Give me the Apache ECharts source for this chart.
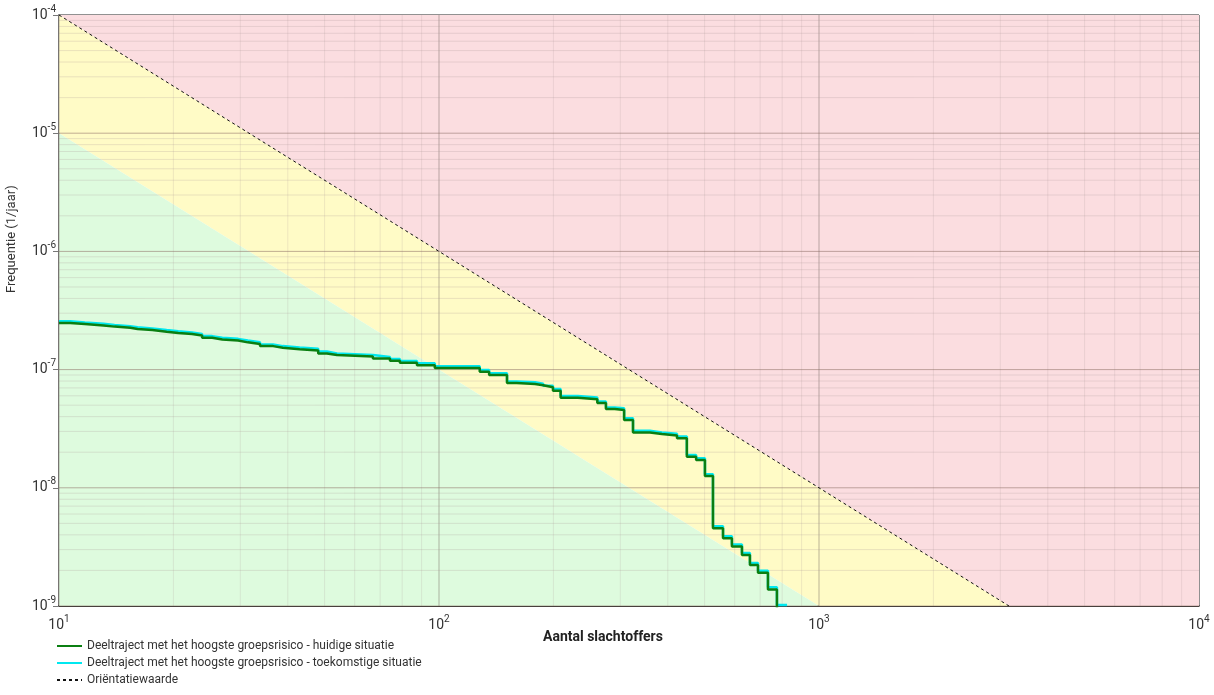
<!DOCTYPE html>
<html>
<head>
<meta charset="utf-8">
<script src="https://cdn.jsdelivr.net/npm/echarts@6/dist/echarts.min.js"></script>
<style>
html,body{margin:0;padding:0;background:#fff;}
#chart{width:1214px;height:695px;}
</style>
</head>
<body>
<div id="chart"></div>
<script>
// ---- data ----
const xTicks = [10, 100, 1000, 10000];
const yTicks = [1e-9, 1e-8, 1e-7, 1e-6, 1e-5, 1e-4];

const nGreen = [10, 10.7, 11.7, 13.1, 14.0, 15.4, 16.1, 17.6, 19.2, 20.6, 22.4, 23.8, 25.3, 26.9, 29.6, 31.4, 33.8, 36.6, 38.8, 43.0, 48.1, 50.7, 53.9, 67.0, 74.3, 78.9, 87.5, 97.5, 128, 135.5, 151, 160, 179, 188, 199.5, 209, 232, 261, 275, 290, 307, 324, 359, 386, 423, 449, 475, 501, 526, 559, 590, 627, 658, 691, 734, 775, 830];
const fGreen = [2.48e-7, 2.43e-7, 2.36e-7, 2.31e-7, 2.26e-7, 2.21e-7, 2.16e-7, 2.09e-7, 2.04e-7, 2.00e-7, 1.94e-7, 1.86e-7, 1.80e-7, 1.76e-7, 1.70e-7, 1.65e-7, 1.58e-7, 1.53e-7, 1.49e-7, 1.45e-7, 1.37e-7, 1.33e-7, 1.29e-7, 1.24e-7, 1.19e-7, 1.14e-7, 1.09e-7, 1.03e-7, 9.6e-8, 9.0e-8, 7.7e-8, 7.55e-8, 7.36e-8, 7.08e-8, 6.63e-8, 5.78e-8, 5.61e-8, 5.21e-8, 4.64e-8, 4.55e-8, 3.75e-8, 2.94e-8, 2.85e-8, 2.77e-8, 2.62e-8, 1.83e-8, 1.72e-8, 1.26e-8, 4.54e-9, 3.74e-9, 3.18e-9, 2.70e-9, 2.22e-9, 1.91e-9, 1.38e-9, 9.0e-10, 9.0e-10];

const nCyan = [10, 10.7, 11.7, 13.1, 14.0, 15.4, 16.1, 17.6, 19.2, 20.6, 22.4, 23.8, 25.3, 26.9, 29.6, 31.4, 33.8, 36.6, 38.8, 43.0, 48.1, 50.7, 53.9, 67.0, 74.3, 78.9, 87.5, 97.5, 128, 135.5, 151, 160, 179, 188, 199.5, 209, 232, 261, 275, 290, 307, 324, 359, 386, 423, 449, 475, 501, 526, 559, 590, 627, 658, 691, 734, 775, 824];
const fCyan = [2.56e-7, 2.50e-7, 2.44e-7, 2.38e-7, 2.33e-7, 2.28e-7, 2.23e-7, 2.16e-7, 2.11e-7, 2.06e-7, 2.00e-7, 1.92e-7, 1.86e-7, 1.82e-7, 1.76e-7, 1.70e-7, 1.63e-7, 1.58e-7, 1.54e-7, 1.50e-7, 1.42e-7, 1.37e-7, 1.33e-7, 1.28e-7, 1.23e-7, 1.18e-7, 1.13e-7, 1.07e-7, 9.9e-8, 9.3e-8, 7.95e-8, 7.8e-8, 7.6e-8, 7.3e-8, 6.85e-8, 5.97e-8, 5.8e-8, 5.38e-8, 4.79e-8, 4.7e-8, 3.87e-8, 3.04e-8, 2.94e-8, 2.86e-8, 2.71e-8, 1.89e-8, 1.78e-8, 1.30e-8, 4.72e-9, 3.89e-9, 3.31e-9, 2.81e-9, 2.31e-9, 1.99e-9, 1.44e-9, 1.02e-9, 1.02e-9];

const orientN = [10, 3162.3];
const orientF = [1e-4, 1e-9];

const zoneRed = [[10, 1e-4], [10000, 1e-4], [10000, 1e-9], [3162.3, 1e-9]];
const zoneYellow = [[10, 1e-4], [3162.3, 1e-9], [1000, 1e-9], [10, 1e-5]];
const zoneGreen = [[10, 1e-5], [1000, 1e-9], [10, 1e-9]];

const seriesNames = [
  'Deeltraject met het hoogste groepsrisico - huidige situatie',
  'Deeltraject met het hoogste groepsrisico - toekomstige situatie',
  'Oriëntatiewaarde'
];

// ---- chart ----
const FONT = 'Roboto, "Liberation Sans", sans-serif';
const zones = [zoneRed, zoneYellow, zoneGreen];
const zoneColors = ['#fbdde0', '#fffbc6', '#defbde'];

const chart = echarts.init(document.getElementById('chart'), null, {renderer: 'canvas'});

function expLabel(v) {
  const e = Math.round(Math.log10(v));
  return '{b|10}{s|' + e + '}';
}
const richLbl = {
  b: {fontSize: 14, color: '#333', fontFamily: FONT, lineHeight: 22},
  s: {fontSize: 10, color: '#333', fontFamily: FONT, lineHeight: 22, verticalAlign: 'top'}
};

const xMin = xTicks[0], xMax = xTicks[xTicks.length - 1];
const yMin = yTicks[0], yMax = yTicks[yTicks.length - 1];

const option = {
  animation: false,
  textStyle: {fontFamily: FONT},
  grid: {left: 59, right: 15, top: 15, bottom: 89, show: true, borderColor: '#222', borderWidth: 1, backgroundColor: 'transparent'},
  xAxis: {
    type: 'log', logBase: 10, min: xMin, max: xMax,
    axisLine: {show: true, lineStyle: {color: '#111', width: 1.5}},
    axisTick: {show: false},
    splitLine: {show: false},
    minorSplitLine: {show: false},
    axisLabel: {formatter: expLabel, rich: richLbl, fontSize: 14, margin: 8}
  },
  yAxis: {
    type: 'log', logBase: 10, min: yMin, max: yMax,
    axisLine: {show: true, lineStyle: {color: '#777', width: 2}},
    axisTick: {show: true, length: 6, lineStyle: {color: '#777'}},
    splitLine: {show: false},
    axisLabel: {formatter: expLabel, rich: richLbl, fontSize: 14, margin: 3}
  },
  legend: {
    orient: 'vertical', left: 56, top: 640, itemGap: 5, itemWidth: 25, itemHeight: 14,
    padding: 0, height: 60,
    data: seriesNames,
    itemStyle: {opacity: 0},
    textStyle: {fontSize: 12, color: '#333', fontFamily: FONT},
    selectedMode: false
  },
  graphic: [
    {type: 'text', left: 543, top: 630, style: {text: 'Aantal slachtoffers', font: 'bold 14px ' + FONT, fill: '#222'}},
    {type: 'text', x: 5, y: 293, rotation: Math.PI / 2, style: {text: 'Frequentie (1/jaar)', font: '13px ' + FONT, fill: '#333', align: 'left', verticalAlign: 'top'}}
  ],
  series: [
    {
      type: 'custom', name: 'zones', silent: true, z: 1,
      data: zones.map((z, i) => [z[0][0], z[0][1], i]),
      encode: {x: 0, y: 1},
      renderItem: function (params, api) {
        const idx = api.value(2);
        const pts = zones[idx].map(p => api.coord(p));
        return {type: 'polygon', shape: {points: pts}, style: {fill: zoneColors[idx]}};
      }
    },
    {
      type: 'custom', name: 'gridlines', silent: true, z: 2,
      data: [[xMin, yMin]],
      encode: {x: 0, y: 1},
      renderItem: function (params, api) {
        const children = [];
        for (let d = 0; d < xTicks.length - 1; d++) {
          for (let m = 1; m <= 9; m++) {
            const v = xTicks[d] * m;
            const a = api.coord([v, yMin]), b = api.coord([v, yMax]);
            children.push({type: 'line', shape: {x1: a[0], y1: a[1], x2: b[0], y2: b[1]},
              style: {stroke: m === 1 ? 'rgba(120,110,100,0.5)' : 'rgba(170,150,150,0.2)', lineWidth: 1}});
          }
        }
        for (let d = 0; d < yTicks.length - 1; d++) {
          for (let m = 1; m <= 9; m++) {
            const v = yTicks[d] * m;
            const a = api.coord([xMin, v]), b = api.coord([xMax, v]);
            children.push({type: 'line', shape: {x1: a[0], y1: a[1], x2: b[0], y2: b[1]},
              style: {stroke: m === 1 ? 'rgba(140,110,100,0.55)' : 'rgba(170,150,150,0.25)', lineWidth: 1}});
          }
        }
        return {type: 'group', children: children};
      }
    },
    {
      name: seriesNames[1], type: 'line', step: 'end', z: 5,
      data: nCyan.map((n, i) => [n, fCyan[i]]),
      showSymbol: false, symbol: 'none',
      lineStyle: {color: '#00e8f0', width: 2.5},
      itemStyle: {color: '#00e8f0'}
    },
    {
      name: seriesNames[0], type: 'line', step: 'end', z: 6,
      data: nGreen.map((n, i) => [n, fGreen[i]]),
      showSymbol: false, symbol: 'none',
      lineStyle: {color: '#0b7f12', width: 2.5},
      itemStyle: {color: '#0b7f12'}
    },
    {
      name: seriesNames[2], type: 'line', z: 4,
      data: orientN.map((n, i) => [n, orientF[i]]),
      showSymbol: false, symbol: 'none',
      lineStyle: {color: '#111', width: 1, type: [3, 3]},
      itemStyle: {color: '#111'}
    }
  ]
};
chart.setOption(option);
</script>
</body>
</html>
